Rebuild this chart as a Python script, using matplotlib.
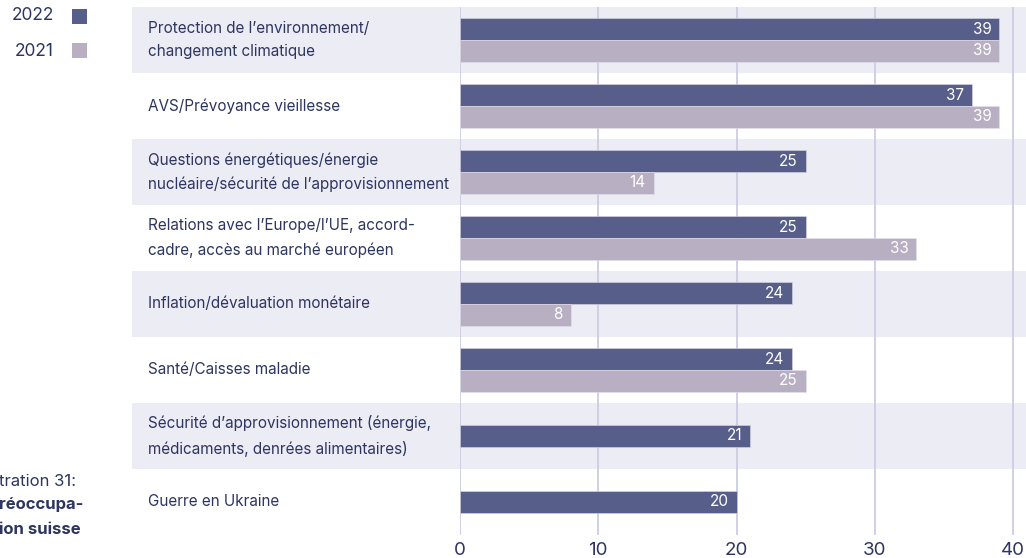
import matplotlib.pyplot as plt
import matplotlib.transforms as mtransforms
from matplotlib.patches import Rectangle
import numpy as np

categories = [
    "Protection de l\u2019environnement/\nchangement climatique",
    "AVS/Pr\u00e9voyance vieillesse",
    "Questions \u00e9nerg\u00e9tiques/\u00e9nergie\nnucl\u00e9aire/s\u00e9curit\u00e9 de l\u2019approvisionnement",
    "Relations avec l\u2019Europe/l\u2019UE, accord-\ncadre, acc\u00e8s au march\u00e9 europ\u00e9en",
    "Inflation/d\u00e9valuation mon\u00e9taire",
    "Sant\u00e9/Caisses maladie",
    "S\u00e9curit\u00e9 d\u2019approvisionnement (\u00e9nergie,\nm\u00e9dicaments, denr\u00e9es alimentaires)",
    "Guerre en Ukraine",
]
values_2022 = [39, 37, 25, 25, 24, 24, 21, 20]
values_2021 = [39, 39, 14, 33, 8, 25, None, None]
xticks = [0, 10, 20, 30, 40]

dark = "#575e8a"
light = "#b8afc3"
band = "#ececf5"
navy = "#2d3561"
grid = "#cdcbe2"

plt.rcParams['font.family'] = ['Inter', 'DejaVu Sans']

W, H = 1026, 558
fig = plt.figure(figsize=(W / 100, H / 100), dpi=100)
ax = fig.add_axes([460 / W, (H - 535) / H, (W - 460) / W, (535 - 7) / H])
ax.patch.set_visible(False)

n = len(categories)
xmax = (W - 460) / 13.83
ax.set_xlim(0, xmax)
ax.set_ylim(n - 0.5, -0.5)

# alternating row bands reaching into the label column
trans = mtransforms.blended_transform_factory(fig.transFigure, ax.transData)
for i in range(0, n, 2):
    ax.add_patch(Rectangle((132 / W, i - 0.5), 1 - 132 / W, 1, transform=trans,
                           facecolor=band, edgecolor="none", clip_on=False, zorder=0))

h = 0.33
for i in range(n):
    pair = values_2021[i] is not None
    y22 = i - h / 2 if pair else i
    ax.barh(y22, values_2022[i], height=h, color=dark, edgecolor="#dcd9ea",
            linewidth=0.4, zorder=3)
    ax.annotate(str(values_2022[i]), (values_2022[i], y22), xytext=(-8, 0),
                textcoords="offset pixels", ha="right", va="center",
                color="white", fontsize=11, zorder=4)
    if pair:
        y21 = i + h / 2
        ax.barh(y21, values_2021[i], height=h, color=light, edgecolor="#e4e1ee",
                linewidth=0.4, zorder=3)
        ax.annotate(str(values_2021[i]), (values_2021[i], y21), xytext=(-8, 0),
                    textcoords="offset pixels", ha="right", va="center",
                    color="white", fontsize=11, zorder=4)
    ax.text(148 / W, i, categories[i], transform=trans, ha="left", va="center",
            color=navy, fontsize=11, linespacing=1.72)

ax.set_xticks(xticks)
ax.set_xticklabels([str(t) for t in xticks])
ax.set_yticks([])
ax.tick_params(axis="x", length=0, pad=5, labelsize=13.5, labelcolor=navy)
ax.grid(axis="x", color=grid, linewidth=1.3, zorder=1)
ax.set_axisbelow(True)
for s in ax.spines.values():
    s.set_visible(False)

# legend
fig.text(54 / W, 1 - 16 / H, "2022", ha="right", va="center", color=navy, fontsize=12.5)
fig.text(54 / W, 1 - 51 / H, "2021", ha="right", va="center", color=navy, fontsize=12.5)
fig.patches.append(Rectangle((72 / W, 1 - 24 / H), 15 / W, 15 / H, transform=fig.transFigure,
                             facecolor=dark, edgecolor="none"))
fig.patches.append(Rectangle((72 / W, 1 - 58 / H), 15 / W, 15 / H, transform=fig.transFigure,
                             facecolor=light, edgecolor="none"))

# caption, cut off at the left edge
fig.text(-1 / W, 1 - 482 / H, "tration 31:", ha="left", va="center", color=navy, fontsize=12)
fig.text(-1 / W, 1 - 505 / H, "r\u00e9occupa-", ha="left", va="center", color=navy,
         fontsize=12, fontweight="bold")
fig.text(-1 / W, 1 - 529 / H, "ion suisse", ha="left", va="center", color=navy,
         fontsize=12, fontweight="bold")

fig.savefig("out.png", dpi=100)
